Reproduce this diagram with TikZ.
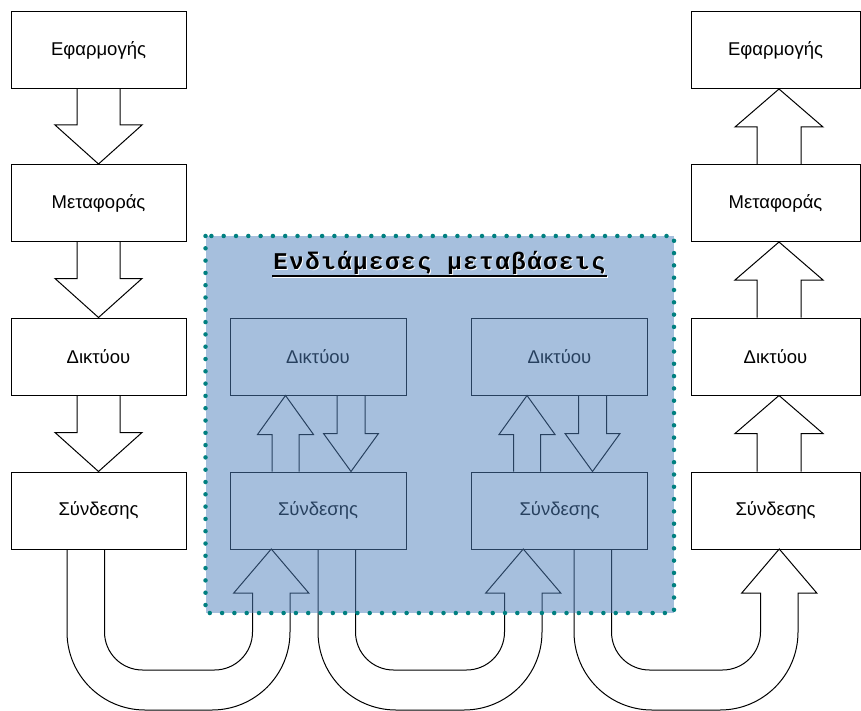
\documentclass[tikz,border=0pt]{standalone}
\usepackage{fontspec}
\setmainfont{Liberation Sans}
\newfontfamily\titlefont[LetterSpace=6.5]{Liberation Mono}
\usetikzlibrary{calc}
\definecolor{ovlblue}{HTML}{4F81BD}
\definecolor{dotteal}{HTML}{008080}
\tikzset{
  layerbox/.style={draw=black, line width=1pt, inner sep=0pt, font=\fontsize{18.5}{22}\selectfont},
  blk/.style={draw=black, line width=1pt, line join=miter},
  ttl/.style={font=\titlefont\bfseries\fontsize{24}{28}\selectfont, inner sep=0pt, anchor=base}
}
\newcommand{\varrow}[6]{%
  \draw[blk] let \p1=(#1), \p2=(#2) in
   (\x1+#3-#4,\y1) -- (\x1+#3-#4,\y2+#6) -- (\x1+#3-#5,\y2+#6) -- (\x1+#3,\y2)
   -- (\x1+#3+#5,\y2+#6) -- (\x1+#3+#4,\y2+#6) -- (\x1+#3+#4,\y1);}
\newcommand{\uarrow}[2]{%
  \draw[blk] (#1,549) -- (#1,632) arc[start angle=180,end angle=90,radius=78]
   -- (#2-78,710) arc[start angle=90,end angle=0,radius=78]
   -- (#2,593) -- (#2-18.75+37.5,593) -- (#2-18.75,549) -- (#2-18.75-37.5,593)
   -- (#2-37.5,593) -- (#2-37.5,632) arc[start angle=0,end angle=90,radius=38]
   -- (#1+37.5+38,670) arc[start angle=90,end angle=180,radius=38] -- (#1+37.5,549);}
\begin{document}
\begin{tikzpicture}[x=1pt,y=-1pt]
\fill[white] (0,0) rectangle (861,711);
\useasboundingbox (0,0) rectangle (861,711);
% left column
\node[layerbox, minimum width=175pt, minimum height=77pt] (L1) at (98.5,50) {Εφαρμογής};
\node[layerbox, minimum width=175pt, minimum height=77pt] (L2) at (98.5,203) {Μεταφοράς};
\node[layerbox, minimum width=175pt, minimum height=77pt] (L3) at (98.5,356.5) {Δικτύου};
\node[layerbox, minimum width=175pt, minimum height=77pt] (L4) at (98.5,510.5) {Σύνδεσης};
% right column
\node[layerbox, minimum width=169pt, minimum height=77pt] (R1) at (775.5,50) {Εφαρμογής};
\node[layerbox, minimum width=169pt, minimum height=77pt] (R2) at (775.5,203) {Μεταφοράς};
\node[layerbox, minimum width=169pt, minimum height=77pt] (R3) at (775.5,356.5) {Δικτύου};
\node[layerbox, minimum width=169pt, minimum height=77pt] (R4) at (775.5,510.5) {Σύνδεσης};
% inner boxes
\node[layerbox, minimum width=176pt, minimum height=77pt] (ID1) at (318,356.5) {Δικτύου};
\node[layerbox, minimum width=176pt, minimum height=77pt] (IS1) at (318,510.5) {Σύνδεσης};
\node[layerbox, minimum width=176pt, minimum height=77pt] (ID2) at (559.5,356.5) {Δικτύου};
\node[layerbox, minimum width=176pt, minimum height=77pt] (IS2) at (559.5,510.5) {Σύνδεσης};
% column arrows
\varrow{L1.south}{L2.north}{0pt}{21.5pt}{43.5pt}{39pt}
\varrow{L2.south}{L3.north}{0pt}{21.5pt}{43.5pt}{39pt}
\varrow{L3.south}{L4.north}{0pt}{21.5pt}{43.5pt}{39pt}
\varrow{R2.north}{R1.south}{3.5pt}{22pt}{44pt}{-38pt}
\varrow{R3.north}{R2.south}{3.5pt}{22pt}{44pt}{-38pt}
\varrow{R4.north}{R3.south}{3.5pt}{22pt}{44pt}{-38pt}
% inner arrows
\varrow{IS1.north}{ID1.south}{-32.5pt}{13.5pt}{28pt}{-39pt}
\varrow{ID1.south}{IS1.north}{33pt}{14pt}{27.5pt}{38pt}
\varrow{IS2.north}{ID2.south}{-32.5pt}{13.5pt}{28pt}{-39pt}
\varrow{ID2.south}{IS2.north}{33pt}{14pt}{27.5pt}{38pt}
% U-turn arrows
\uarrow{67}{290}
\uarrow{318}{542}
\uarrow{574}{798}
% overlay region
\fill[ovlblue, opacity=0.5] (205.5,236) rectangle (674,613);
\draw[dotteal, line width=4.5pt, line cap=round, dash pattern=on 0pt off 12.3pt] (205.5,236) rectangle (674,613);
% title
\node[ttl, text=white] (Tsh) at (440.5,270) {Ενδιάμεσες μεταβάσεις};
\draw[white, line width=2pt] (273,277) -- (608,277);
\node[ttl, text=black] (T) at (439.5,269) {Ενδιάμεσες μεταβάσεις};
\draw[black, line width=2pt] (272,276) -- (607,276);
\end{tikzpicture}
\end{document}
